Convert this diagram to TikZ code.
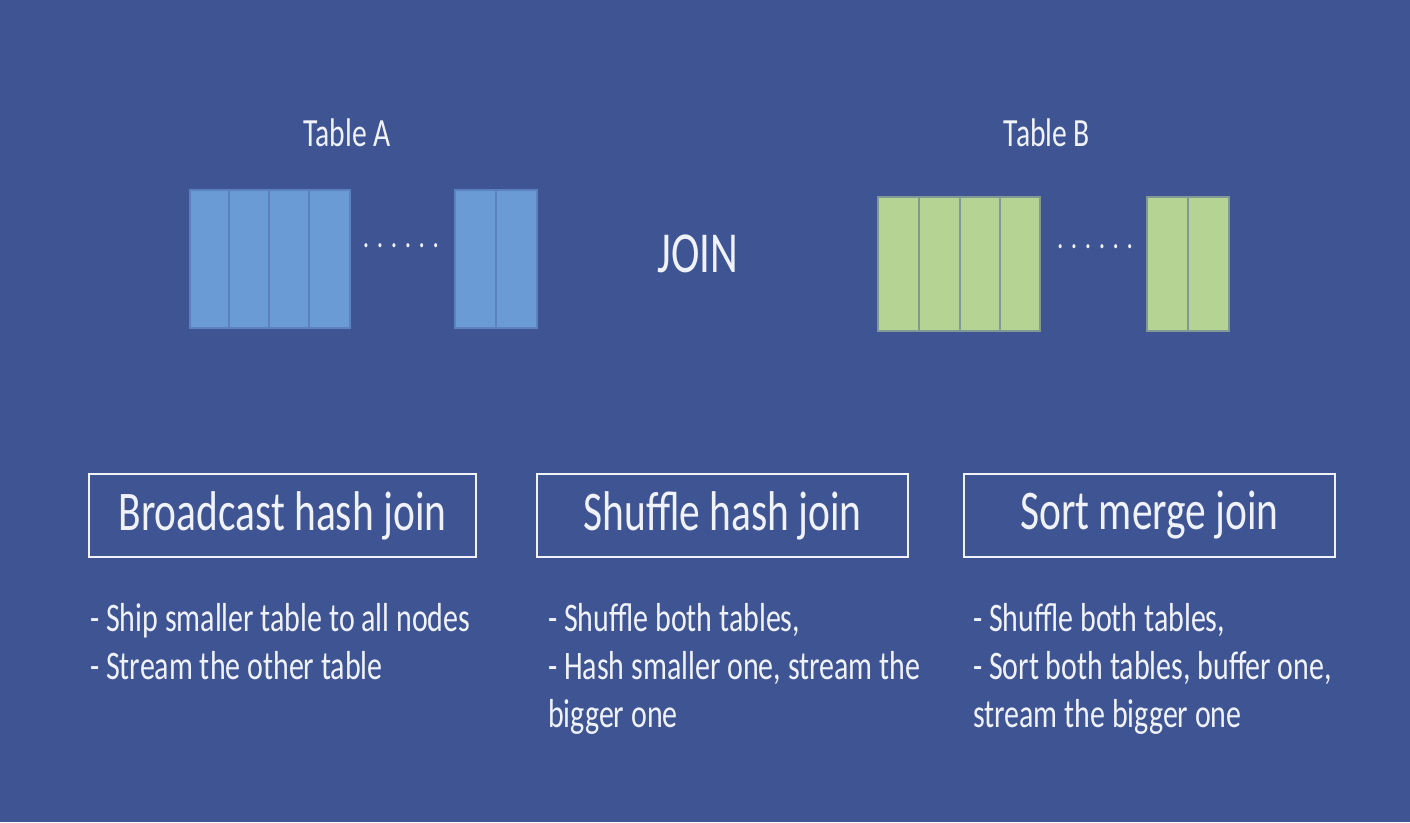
\documentclass[tikz,border=0pt]{standalone}
\usepackage{fontspec}
\setmainfont{Carlito}[FakeStretch=0.74]
\usetikzlibrary{positioning}
\definecolor{slidebg}{RGB}{63,84,146}
\definecolor{cellA}{RGB}{106,155,213}
\definecolor{cellB}{RGB}{181,212,148}
\definecolor{txt}{RGB}{240,242,250}

\begin{document}
\begin{tikzpicture}[x=1pt, y=-1pt,
    lbl/.style={text=txt, inner sep=0pt},
    acell/.style={fill=cellA, draw=cellA!65!slidebg, line width=2pt},
    bcell/.style={fill=cellB, draw=cellB!55!slidebg, line width=2pt},
    joinbox/.style={draw=txt, line width=2.5pt, minimum height=83pt, text=txt, font=\fontsize{56}{64}\selectfont},
    note/.style={text=txt, align=left, anchor=north west, inner sep=0pt, font=\fontsize{40.5}{48}\selectfont}]

      \fill[slidebg] (0,0) rectangle (1410,822);
      \useasboundingbox (0,0) rectangle (1410,822);

      % table A
      \node[lbl, font=\fontsize{40}{48}\selectfont] (tA) at (347,133) {Table A};
      \draw[acell] (190,190) rectangle (229,328);
      \draw[acell] (229,190) rectangle (269,328);
      \draw[acell] (269,190) rectangle (309,328);
      \draw[acell] (309,190) rectangle (350,328);
      \node[lbl, font=\fontsize{34}{48}\selectfont] (dotsA) at (401,246) {. . . . . .};
      \draw[acell] (455,190) rectangle (496,328);
      \draw[acell] (496,190) rectangle (537,328);

      \node[lbl, font=\fontsize{58}{64}\selectfont] (join) at (698,254) {JOIN};

      % table B
      \node[lbl, font=\fontsize{40}{48}\selectfont] (tB) at (1047,133) {Table B};
      \draw[bcell] (878,197) rectangle (919,331);
      \draw[bcell] (919,197) rectangle (960,331);
      \draw[bcell] (960,197) rectangle (1000,331);
      \draw[bcell] (1000,197) rectangle (1040,331);
      \node[lbl, font=\fontsize{34}{48}\selectfont] (dotsB) at (1095,247) {. . . . . .};
      \draw[bcell] (1147,197) rectangle (1188,331);
      \draw[bcell] (1188,197) rectangle (1229,331);

      % the three joins
      \node[joinbox, minimum width=387pt] (bhj) at (282.5,515.5) {Broadcast hash join};
      \node[joinbox, minimum width=371pt] (shj) at (722.5,515.5) {Shuffle hash join};
      \node[joinbox, minimum width=371pt] (smj) at (1149.5,515.5) {Sort merge join};

      \node[note] (bhjnote) at (90,603) {- Ship smaller table to all nodes\\- Stream the other table};
      \node[note] (shjnote) at (548,603) {- Shuffle both tables,\\- Hash smaller one, stream the\\bigger one};
      \node[note] (smjnote) at (973,603) {- Shuffle both tables,\\- Sort both tables, buffer one,\\stream the bigger one};

    \end{tikzpicture}
\end{document}
